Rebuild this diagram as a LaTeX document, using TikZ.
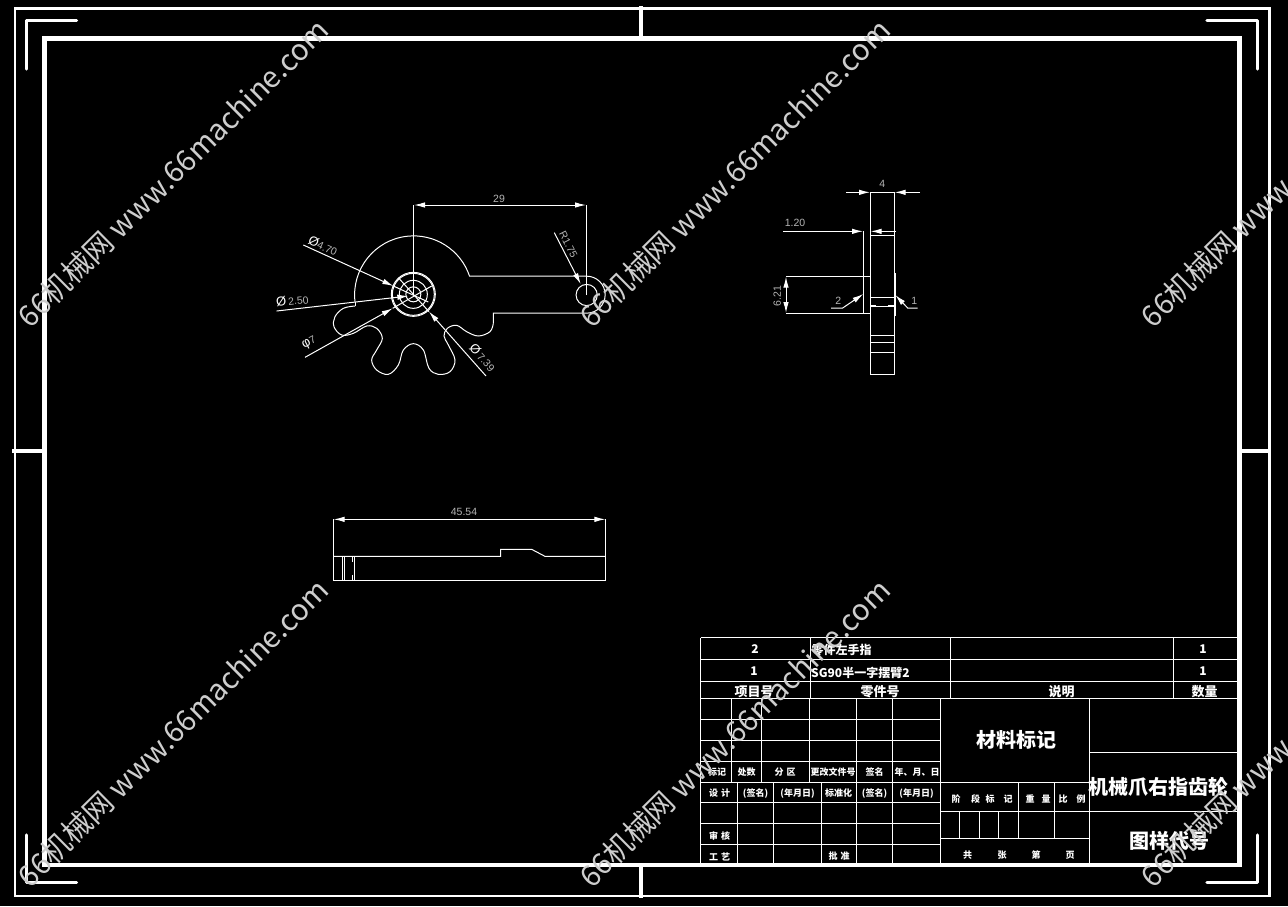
\documentclass[tikz,border=0pt]{standalone}
\usepackage{fontspec}
\setmainfont{Liberation Sans}
\newfontfamily\cjk{Noto Sans CJK SC}
\usetikzlibrary{arrows.meta}
\definecolor{dimgrey}{HTML}{B4B4B4}
\definecolor{wm}{HTML}{CDCDCD}
\newcounter{lab}
\def\lbl[#1](#2)#3{\stepcounter{lab}\node[#1] (t\arabic{lab}) at (#2) {#3};}
\newcommand{\dia}[1]{\textcolor{white}{\fontsize{13}{13}\selectfont #1}}
\tikzset{
  ln/.style={draw=white,line width=1pt},
  frameo/.style={draw=white,line width=2.4pt},
  framei/.style={draw=white,line width=4.4pt},
  corner/.style={draw=white,line width=3.2pt,line cap=round,line join=round},
  tick/.style={draw=white,line width=4pt},
  tb/.style={draw=white,line width=1pt},
  tip/.style={-{Latex[length=11pt,width=5.5pt]}},
  tips/.style={{Latex[length=11pt,width=5.5pt]}-{Latex[length=11pt,width=5.5pt]}},
  dimt/.style={text=dimgrey,inner sep=0pt,font=\fontsize{10.5}{11}\selectfont},
  sm/.style={text=white,inner sep=0pt,font=\cjk\bfseries\fontsize{9}{10}\selectfont},
  md/.style={text=white,inner sep=0pt,font=\cjk\bfseries\fontsize{12}{13}\selectfont},
  lg/.style={text=white,inner sep=0pt,font=\cjk\bfseries\fontsize{20}{22}\selectfont},
  wmark/.style={text=wm,inner sep=0pt,rotate=44.6,font=\cjk\fontsize{29.3}{31}\selectfont}
}
\begin{document}
\begin{tikzpicture}[x=1pt,y=-1pt]
\fill[black,use as bounding box] (0,0) rectangle (1288,906);
% frames
\draw[frameo] (14.7,8.5) rectangle (1269.5,896);
\draw[framei] (44.5,38.5) rectangle (1239.5,865);
\draw[corner] (26.5,69) -- (26.5,20.5) -- (76.5,20.5);
\draw[corner] (1207,20.5) -- (1257.3,20.5) -- (1257.3,69);
\draw[corner] (26.5,835) -- (26.5,882.7) -- (76.5,882.7);
\draw[corner] (1207,882.7) -- (1257.3,882.7) -- (1257.3,835);
\draw[tick] (641.3,6) -- (641.3,38);
\draw[tick] (641.3,865) -- (641.3,898);
\draw[tick] (12,451) -- (44,451);
\draw[tick] (1240,451) -- (1271,451);

% front view (coordinates in zoomed pixels)
\begin{scope}[shift={(260,180)},x=1/3pt,y=-1/3pt]
\draw[ln] (285,365) arc[start angle=186.6,end angle=18.5,radius=59pt] -- (980,288.5)
   arc[start angle=90,end angle=-90,radius=18.5pt] -- (700,399.5) -- (700,430);
\draw[ln] plot[smooth,tension=.6] coordinates {(700,430) (690,455) (655,468) (620,455) (590,436) (562,445) (552,468) (565,495) (585,540) (570,575) (535,583) (507,565) (490,510) (460,491) (430,510) (415,555) (385,583) (350,570) (335,540) (350,510) (367,475) (350,445) (320,438) (280,460) (245,465) (222,440) (225,410) (250,385) (285,378)};
\draw[ln] (285,378) -- (285,365);
\draw[ln] (460,343) circle[radius=22pt];
\draw[ln] (460,343) circle[radius=21pt];
\draw[ln] (460,343) circle[radius=14pt];
\draw[ln] (460,343) circle[radius=7.5pt];
\draw[ln] (980,345) circle[radius=10.6pt];
% dimension 29
\draw[ln] (460,345) -- (460,75);
\draw[ln] (980,345) -- (980,75);
\draw[ln,tips] (462,75) -- (978,75);
\lbl[dimt](717,56){29}
% leaders
\draw[ln,tip] (130,195) -- (400,318);
\draw[ln] (400,318) -- (505,366);
\draw[ln,tip] (50,393) -- (445,348);
\draw[ln,tip] (135,532) -- (398,385);
\draw[ln] (398,385) -- (515,318);
\draw[ln,tip] (678,588) -- (507,395);
\draw[ln] (507,395) -- (415,293);
\draw[ln,tip] (883,158) -- (962,312);
\lbl[dimt,rotate=-25](189,197){\dia{Ø}4.70}
\lbl[dimt,rotate=6](97,362){\dia{Ø}\,2.50}
\lbl[dimt,rotate=28](148,490){\dia{φ}7}
\lbl[dimt,rotate=-48](668,533){\dia{Ø}\,7.39}
\lbl[dimt,rotate=-63](925,193){R1.75}
\end{scope}

% side view
\begin{scope}[shift={(760,170)},x=1/3pt,y=-1/3pt]
\draw[ln] (331,67) rectangle (403,613);
\foreach \yy in {196,382,408,496,517,547} {\draw[ln] (331,\yy) -- (403,\yy);}
\draw[ln,line width=1.6pt] (331,408) -- (349,408);
\draw[ln,line width=1.6pt] (385,408) -- (403,408);
\draw[ln] (310,184) -- (310,430);
\draw[ln] (78,319) -- (331,319);
\draw[ln] (78,430) -- (331,430);
\draw[ln,tips] (78,320) -- (78,429);
\draw[ln,line width=1.4pt] (406,310) -- (406,437);
% dim 4
\draw[ln,tip] (258,67) -- (330,67);
\draw[ln,tip] (480,67) -- (404,67);
\lbl[dimt](367,43){4}
% dim 1.20
\draw[ln,tip] (70,184) -- (309,184);
\draw[ln,tip] (408,184) -- (332,184);
\lbl[dimt](105,160){1.20}
\lbl[dimt,rotate=90](52,378){6.21}
% leaders
\draw[ln,tip] (213,414) -- (248,414) -- (310,372);
\lbl[dimt](235,393){2}
\draw[ln,tip] (473,414) -- (443,414) -- (406,375);
\lbl[dimt](463,392){1}
\end{scope}

% bottom view
\begin{scope}[shift={(320,500)},x=1/3pt,y=-1/3pt]
\draw[ln] (40,58) -- (40,241) -- (857,241) -- (857,58);
\draw[ln,tips] (41,58) -- (856,58);
\draw[ln] (40,169) -- (542,169) -- (542,148) -- (635,148) -- (675,169) -- (857,169);
\draw[ln] (67,169) -- (67,241);
\draw[ln] (73,169) -- (73,241);
\draw[ln] (103,169) -- (103,241);
\draw[ln] (98,172) -- (98,186);
\draw[ln] (98,225) -- (98,239);
\lbl[dimt](432,35){45.54}
\end{scope}

% title block upper table
\draw[tb] (700.7,637.5) -- (1237,637.5);
\draw[tb] (700.7,659.5) -- (1237,659.5);
\draw[tb] (700.7,681.5) -- (1237,681.5);
\draw[tb] (700.7,698.5) -- (1237,698.5);
\draw[tb] (700.7,637.5) -- (700.7,863);
\draw[tb] (810.7,637.5) -- (810.7,698.5);
\draw[tb] (950.3,637.5) -- (950.3,698.5);
\draw[tb] (1173.3,637.5) -- (1173.3,698.5);
% lower left grid
\foreach \yy in {719.3,740.3,761.3,782.3,802.3,823.3,844.3} {\draw[tb] (700.7,\yy) -- (940.3,\yy);}
\foreach \xx in {731.7,761.7,809.7,856.7,892.3} {\draw[tb] (\xx,698.5) -- (\xx,782.3);}
\foreach \xx in {737.7,773.7,821.7,856.7,892.3} {\draw[tb] (\xx,782.3) -- (\xx,863);}
\draw[tb] (940.3,698.5) -- (940.3,863);
% lower right grid
\draw[tb] (1089.3,698.5) -- (1089.3,863);
\draw[tb] (1089.3,752.3) -- (1237,752.3);
\draw[tb] (940.3,782.7) -- (1089.3,782.7);
\draw[tb] (940.3,811.3) -- (1237,811.3);
\draw[tb] (940.3,838.3) -- (1089.3,838.3);
\draw[tb] (1018.3,782.7) -- (1018.3,838.3);
\draw[tb] (1054.3,782.7) -- (1054.3,838.3);
\foreach \xx in {959.3,979.3,998.7} {\draw[tb] (\xx,811.3) -- (\xx,838.3);}

% table texts
\lbl[md](755,649.5){2}
\lbl[md](754,671){1}
\lbl[md,anchor=west](811.5,650.5){零件左手指}
\lbl[md,anchor=west](811,672.5){SG90半一字摆臂2}
\lbl[md](754,691.5){\fontsize{13}{14}\selectfont 项目号}
\lbl[md](880,691.5){\fontsize{13}{14}\selectfont 零件号}
\lbl[md](1061.5,691.5){\fontsize{13}{14}\selectfont 说明}
\lbl[md](1204.5,691.5){\fontsize{13}{14}\selectfont 数量}
\lbl[md](1203,649){1}
\lbl[md](1203,671){1}
\lbl[sm](717,772.5){标记}
\lbl[sm](746.5,772.5){处数}
\lbl[sm](785,772.5){分\,\,区}
\lbl[sm](833,772.5){更改文件号}
\lbl[sm](874.5,772.5){签名}
\lbl[sm](917,772.5){年、月、日}
\lbl[sm](719.5,793.5){设\,\,计}
\lbl[sm](755.5,793.5){(签名)}
\lbl[sm](797.5,793.5){(年月日)}
\lbl[sm](838.5,793.5){标准化}
\lbl[sm](874.5,793.5){(签名)}
\lbl[sm](916.5,793.5){(年月日)}
\lbl[sm](719.5,836.5){审\,\,核}
\lbl[sm](719.5,856.5){工\,\,艺}
\lbl[sm](839,856.5){批\,\,准}
\lbl[sm](956,799){阶}
\lbl[sm](975.5,799){段}
\lbl[sm](990,799){标}
\lbl[sm](1008,799){记}
\lbl[sm](1030,799){重}
\lbl[sm](1046,799){量}
\lbl[sm](1063,799){比}
\lbl[sm](1081,799){例}
\lbl[sm](967.5,855.5){共}
\lbl[sm](1002,855.5){张}
\lbl[sm](1036,855.5){第}
\lbl[sm](1070,855.5){页}
\lbl[lg](1016.5,739.5){材料标记}
\lbl[lg](1158.5,787){机械爪右指齿轮}
\lbl[lg](1169.5,841){图样代号}

% watermarks
\foreach \xx in {173,734.5,1296} {
  \foreach \yy in {173,733} {
    \lbl[wmark](\xx,\yy){66机械网 www.66machine.com}
  }
}
\end{tikzpicture}
\end{document}
